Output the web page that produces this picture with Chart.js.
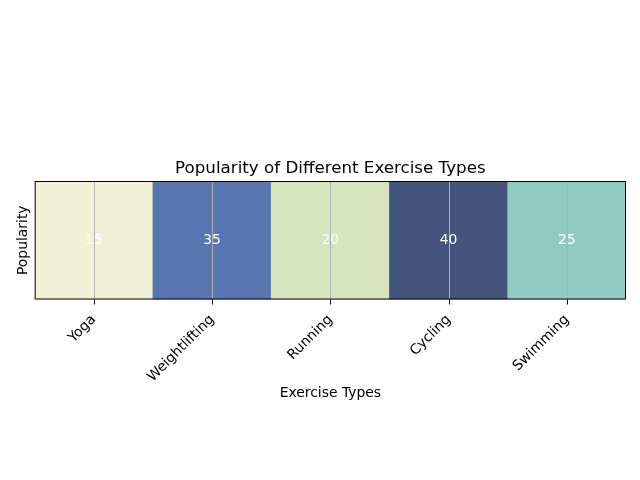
<!DOCTYPE html>
<html>
<head>
<meta charset="utf-8">
<script src="https://cdn.jsdelivr.net/npm/chart.js@4"></script>
<style>
  html, body { margin: 0; padding: 0; background: #fff; }
  #wrap { width: 640px; height: 480px; }
</style>
</head>
<body>
<div id="wrap"><canvas id="heatChart" width="640" height="480"></canvas></div>
<script>
// data
const exerciseTypes = ['Yoga', 'Weightlifting', 'Running', 'Cycling', 'Swimming'];
const popularity = [15, 35, 20, 40, 25];
const chartTitle = 'Popularity of Different Exercise Types';

// colour ramp (light yellow -> teal -> dark blue), by normalised value
const rampStops = [
    [0.0, [241, 241, 216]],
    [0.2, [214, 229, 189]],
    [0.4, [143, 203, 194]],
    [0.8, [88, 117, 176]],
    [1.0, [67, 84, 125]]
];

function colourFor(v) {
    const lo = Math.min(...popularity), hi = Math.max(...popularity);
    const t = (v - lo) / (hi - lo);
    for (let i = 1; i < rampStops.length; i++) {
        const [t0, c0] = rampStops[i - 1];
        const [t1, c1] = rampStops[i];
        if (t <= t1) {
            const f = (t - t0) / (t1 - t0);
            const c = c0.map((x, k) => Math.round(x + (c1[k] - x) * f));
            return `rgb(${c[0]}, ${c[1]}, ${c[2]})`;
        }
    }
    return 'rgb(67, 84, 125)';
}

// grid at cell centres, tick marks, frame, values in each cell, title over plot area
const cellPlugin = {
    id: 'cellPlugin',
    afterDatasetsDraw(chart) {
        const ctx = chart.ctx;
        const a = chart.chartArea;
        const xScale = chart.scales.x;
        ctx.save();
        ctx.lineWidth = 1;
        exerciseTypes.forEach((name, i) => {
            const x = Math.round(xScale.getPixelForValue(i)) + 0.5;
            ctx.strokeStyle = '#b0b0b0';
            ctx.beginPath();
            ctx.moveTo(x, a.top);
            ctx.lineTo(x, a.bottom);
            ctx.stroke();
            ctx.strokeStyle = '#000';
            ctx.beginPath();
            ctx.moveTo(x, a.bottom);
            ctx.lineTo(x, a.bottom + 5);
            ctx.stroke();
        });
        ctx.fillStyle = '#fff';
        ctx.font = '13.9px "DejaVu Sans"';
        ctx.textAlign = 'center';
        ctx.textBaseline = 'middle';
        const yMid = (a.top + a.bottom) / 2;
        popularity.forEach((v, i) => {
            ctx.fillText(String(v), xScale.getPixelForValue(i), yMid);
        });
        ctx.strokeStyle = '#000';
        ctx.strokeRect(a.left + 0.5, a.top + 0.5, a.right - a.left - 1, a.bottom - a.top - 1);

        ctx.fillStyle = '#000';
        ctx.font = '16.7px "DejaVu Sans"';
        ctx.fillText(chartTitle, (a.left + a.right) / 2, a.top - 12);
        ctx.restore();
    }
};

const ctx = document.getElementById('heatChart').getContext('2d');
new Chart(ctx, {
    type: 'bar',
    data: {
        labels: exerciseTypes,
        datasets: [{
            label: 'Popularity',
            data: popularity.map(() => [0, 1]),
            backgroundColor: popularity.map(colourFor),
            borderWidth: 0,
            barPercentage: 1,
            categoryPercentage: 1
        }]
    },
    options: {
        responsive: false,
        animation: false,
        devicePixelRatio: 1,
        layout: { padding: { top: 181, right: 14, bottom: 78, left: 15 } },
        plugins: {
            legend: { display: false },
            tooltip: { enabled: false },
            title: { display: false }
        },
        scales: {
            x: {
                grid: { display: false },
                border: { display: false },
                ticks: {
                    color: '#000',
                    font: { family: 'DejaVu Sans', size: 13.9 },
                    minRotation: 45,
                    maxRotation: 45,
                    padding: 4
                },
                title: {
                    display: true,
                    text: 'Exercise Types',
                    color: '#000',
                    font: { family: 'DejaVu Sans', size: 13.9 },
                    padding: { top: -4, bottom: 0 }
                }
            },
            y: {
                min: 0,
                max: 1,
                grid: { display: false },
                border: { display: false },
                ticks: { display: false },
                title: {
                    display: true,
                    text: 'Popularity',
                    color: '#000',
                    font: { family: 'DejaVu Sans', size: 13.9 },
                    padding: { top: 0, bottom: -5 }
                }
            }
        }
    },
    plugins: [cellPlugin]
});
</script>
</body>
</html>
